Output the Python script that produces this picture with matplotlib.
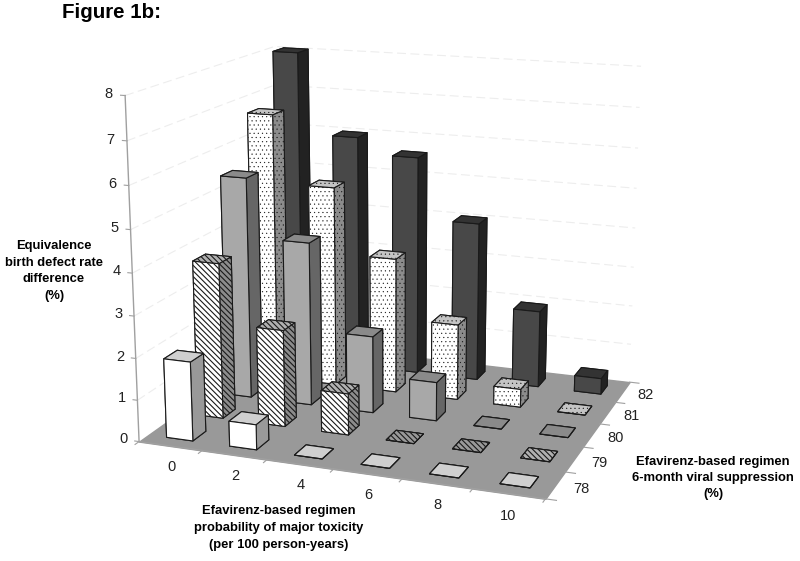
import numpy as np
import matplotlib
matplotlib.use('Agg')
import matplotlib.pyplot as plt
from mpl_toolkits.mplot3d import proj3d
from mpl_toolkits.mplot3d.art3d import Poly3DCollection

plt.rcParams['font.family'] = ['Liberation Sans', 'DejaVu Sans']

# categories
toxicity = ['0', '2', '4', '6', '8', '10']
suppression = ['78', '79', '80', '81', '82']
z_ticks = [0, 1, 2, 3, 4, 5, 6, 7, 8]

# equivalence birth defect rate difference, one list per suppression level
vals_78 = [1.9, 0.6, 0, 0, 0, 0]
vals_79 = [3.8, 2.35, 1.0, 0, 0, 0]
vals_80 = [5.5, 4.05, 1.9, 0.95, 0, 0]
vals_81 = [6.75, 5.05, 3.4, 1.9, 0.45, 0]
vals_82 = [8.05, 6.0, 5.6, 4.05, 1.95, 0.4]
rows = [vals_78, vals_79, vals_80, vals_81, vals_82]

# (front, right side, top), hatch, hatch line width
styles = [
    (('#ffffff', '#999999', '#cfcfcf'), None, 0.7),
    (('#ffffff', '#8c8c8c', '#b0b0b0'), '\\' * 6, 0.8),
    (('#a8a8a8', '#666666', '#8a8a8a'), None, 0.7),
    (('#ffffff', '#8c8c8c', '#c4c4c4'), '.' * 4, 0.3),
    (('#484848', '#222222', '#333333'), None, 0.7),
]
BAR = 0.42
FLOOR = '#999999'
GRID = '#ededed'
AXIS = '#a0a0a0'
TICK_TXT = '#222222'

fig = plt.figure(figsize=(8, 5.61), dpi=100)
ax = fig.add_axes([0, 0, 1, 1], projection='3d', computed_zorder=False)
ax.set_xlim(-0.5, 5.5)
ax.set_ylim(-0.5, 4.5)
ax.set_zlim(0, 8)
ax.view_init(14.83, -69.806)
ax.set_proj_type('persp', focal_length=0.524)
ax.set_box_aspect((1.201, 0.991, 1))
ax.set_axis_off()

# camera fit against the reference: scale and offset in pixels
K, TX, TY = 3315.65, 396.04, 249.45
x0, x1 = ax.viewLim.intervalx
y0, y1 = ax.viewLim.intervaly
ax.set_position([(TX + K * x0) / 800, (561 - (TY - K * y0)) / 561,
                 K * (x1 - x0) / 800, K * (y1 - y0) / 561])

nx, ny = len(toxicity), len(suppression)
xa, xb, ya, yb = -0.5, nx - 0.5, -0.5, ny - 0.5
M = ax.get_proj()


def label(x, y, z, s):
    px, py, _ = proj3d.proj_transform(x, y, z, M)
    ax.text2D(px, py, s, transform=ax.transData, ha='center', va='center', fontsize=10.5, color=TICK_TXT)


# walls
for z in z_ticks[1:]:
    ax.plot([xa, xa, xb], [ya, yb, yb], [z, z, z], color=GRID, lw=0.8, ls=(0, (8, 4)), zorder=1)

# floor
floor = Poly3DCollection([[(xa, ya, 0), (xb, ya, 0), (xb, yb, 0), (xa, yb, 0)]],
                         facecolor=FLOOR, edgecolor=FLOOR, zorder=2)
ax.add_collection3d(floor)

# axis lines and ticks
ax.plot([xa, xa], [ya, ya], [0, 8], color=AXIS, lw=1, zorder=3)
for z in z_ticks:
    ax.plot([xa - 0.07, xa], [ya, ya], [z, z], color=AXIS, lw=0.8, zorder=3)
    label(xa - 0.25, ya, z, str(z))
ax.plot([xa, xb], [ya, ya], [0, 0], color=AXIS, lw=1, zorder=3)
for i in range(nx + 1):
    ax.plot([xa + i, xa + i], [ya, ya - 0.12], [0, 0], color=AXIS, lw=0.8, zorder=3)
for j in range(ny + 1):
    ax.plot([xb, xb + 0.15], [ya + j, ya + j], [0, 0], color=AXIS, lw=0.8, zorder=3)
for i, lab in enumerate(toxicity):
    label(i, ya, -0.5, lab)
for j, lab in enumerate(suppression):
    label(xb + 0.36, j, 0, lab)

# bars, back row first, left to right
order = 10
for j in range(ny - 1, -1, -1):
    (front, side, top), hatch, hatch_lw = styles[j]
    plt.rcParams['hatch.linewidth'] = hatch_lw
    # bottom, top, -y, +y, -x, +x
    face_cols = [FLOOR, top, front, side, front, side]
    for i in range(nx):
        ax.bar3d(i - BAR / 2, j - BAR / 2, 0, BAR, BAR, rows[j][i], color=face_cols, shade=False,
                 edgecolor='#1a1a1a', linewidth=0.8, hatch=hatch, zorder=order)
        order += 1

fig.text(62 / 800, 1 - 13 / 561, 'Figure 1b:', fontsize=14.8, fontweight='bold', ha='left', va='center')
fig.text(54 / 800, 1 - 271 / 561, 'Equivalence\nbirth defect rate\ndifference\n(%)', fontsize=9.4,
         fontweight='bold', ha='center', va='center', linespacing=1.5)
fig.text(279 / 800, 1 - 528 / 561, 'Efavirenz-based regimen\nprobability of major toxicity\n(per 100 person-years)',
         fontsize=9.4, fontweight='bold', ha='center', va='center', linespacing=1.55)
fig.text(713 / 800, 1 - 478 / 561, 'Efavirenz-based regimen\n6-month viral suppression\n(%)', fontsize=9.4,
         fontweight='bold', ha='center', va='center', linespacing=1.5)

fig.savefig('out.png', dpi=100)
